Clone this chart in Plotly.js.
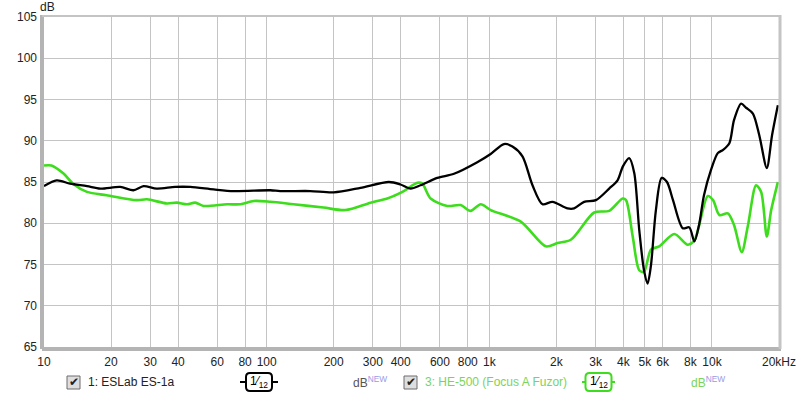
<!DOCTYPE html>
<html><head><meta charset="utf-8">
<script src="https://cdn.plot.ly/plotly-3.0.1.min.js"></script>
<style>html,body{margin:0;padding:0;background:#fff;}#c{width:800px;height:398px;}</style>
</head><body><div id="c"></div>
<script>
// ---- data ----
const blackFreq = [10,11.4,13.1,15.6,17.9,22.0,25.2,28.0,32.1,38.8,45.4,57.8,71.1,104,115,157,200,264,354,399,443,491,584,694,883,1014,1164,1270,1409,1563,1733,1922,2246,2404,2666,3012,3454,3767,3981,4249,4477,4713,4952,5140,5321,5600,5942,6281,6683,7390,7912,8334,8750,9208,9908,10617,11220,11970,12560,13520,14230,15270,16300,17630,18620,19770];
const blackDb   = [84.5,85.2,84.8,84.5,84.2,84.4,84.0,84.5,84.2,84.4,84.4,84.1,83.9,84.0,83.9,83.9,83.75,84.3,85.0,84.7,84.2,84.6,85.5,86.0,87.4,88.4,89.6,89.3,88.1,84.6,82.3,82.6,81.8,81.8,82.6,82.8,84.2,85.2,86.9,87.9,86.1,79.2,74.3,72.7,74.9,81.6,85.5,85.0,82.8,79.4,79.5,77.8,79.8,83.4,86.5,88.5,88.9,89.7,92.5,94.5,94.0,93.3,90.7,86.7,90.7,94.3];
const greenFreq = [10,10.8,12.2,13.5,15.6,19.1,26.1,29.0,35.6,39.5,43.9,47.8,52.1,66.4,76.2,87.5,104,132,180,226,293,348,413,475,500,545,648,743,824,915,1014,1384,1795,2025,2323,2958,3454,3972,4111,4406,4713,4952,5321,5795,6773,7785,8334,9572,10116,10790,11780,12560,13610,14520,15780,16630,17630,18450,19770];
const greenDb   = [87.0,87.0,86.05,84.8,83.8,83.4,82.8,82.9,82.4,82.5,82.3,82.5,82.1,82.3,82.3,82.7,82.6,82.3,81.9,81.6,82.5,83.0,83.9,84.9,84.8,83.0,82.1,82.2,81.5,82.3,81.6,80.2,77.2,77.6,78.0,81.3,81.5,83.0,82.8,78.4,74.3,74.1,76.8,77.2,78.7,77.4,77.9,83.3,82.8,81.0,81.2,79.8,76.5,79.8,84.6,83.8,78.4,81.6,85.0];
const tickFreqs  = [10,20,30,40,60,80,100,200,300,400,600,800,1000,2000,3000,4000,5000,6000,8000,10000,20000];
const tickLabels = ['10','20','30','40','60','80','100','200','300','400','600','800','1k','2k','3k','4k','5k','6k','8k','10k','20kHz'];
const unlabeledGridFreqs = [50,70,90,500,700,900,7000,9000];
const decades = [100,1000,10000];
const yTicks = [65,70,75,80,85,90,95,100,105];
const series1Name = '1: ESLab ES-1a';
const series2Name = '3: HE-500 (Focus A Fuzor)';
const smoothing = '1/12';
const unitLabel = 'dB';

// ---- layout helpers (pixel -> paper) ----
const L=44, R=779, T=17, B=347;
const W=R-L, H=B-T;
const px = x => (x-L)/W;
const py = y => (B-y)/H;
const GREEN = '#3ddc1c';
const FONT = 'Liberation Sans, Arial';

const traces = [
  {x: greenFreq, y: greenDb, type:'scatter', mode:'lines', line:{color:GREEN, width:2.6, shape:'spline', smoothing:0.8}, hoverinfo:'skip'},
  {x: blackFreq, y: blackDb, type:'scatter', mode:'lines', line:{color:'#000', width:2.3, shape:'spline', smoothing:0.8}, hoverinfo:'skip'}
];

const shapes = [];
unlabeledGridFreqs.forEach(f => shapes.push({type:'line', xref:'x', yref:'paper', x0:Math.log10(f), x1:Math.log10(f), y0:0, y1:1, line:{color:'#c4c4c4', width:1}, layer:'below'}));
decades.forEach(d => shapes.push({type:'line', xref:'x', yref:'paper', x0:Math.log10(d), x1:Math.log10(d), y0:0, y1:1, line:{color:'#8c8c8c', width:1}, layer:'below'}));
// frame shadow
shapes.push({type:'line', xref:'paper', yref:'paper', x0:px(42), x1:px(42), y0:py(349), y1:py(15), line:{color:'#b4b4b4', width:4}});
shapes.push({type:'line', xref:'paper', yref:'paper', x0:px(42), x1:px(781), y0:py(349), y1:py(349), line:{color:'#b4b4b4', width:4}});
shapes.push({type:'line', xref:'paper', yref:'paper', x0:px(42), x1:px(781), y0:py(16), y1:py(16), line:{color:'#c4c4c4', width:2}});
shapes.push({type:'line', xref:'paper', yref:'paper', x0:px(780), x1:px(780), y0:py(349), y1:py(15), line:{color:'#c4c4c4', width:3}});

function checkbox(x){
  shapes.push({type:'rect', xref:'paper', yref:'paper', x0:px(x), x1:px(x+13), y0:py(389), y1:py(376), line:{color:'#6d6d6d', width:1}, fillcolor:'#dedede'});
}
function roundRect(x0, y0, x1, y1, r){
  const X = v => px(v).toFixed(5), Y = v => py(v).toFixed(5);
  return `M${X(x0+r)},${Y(y0)} L${X(x1-r)},${Y(y0)} Q${X(x1)},${Y(y0)} ${X(x1)},${Y(y0+r)} L${X(x1)},${Y(y1-r)} Q${X(x1)},${Y(y1)} ${X(x1-r)},${Y(y1)} L${X(x0+r)},${Y(y1)} Q${X(x0)},${Y(y1)} ${X(x0)},${Y(y1-r)} L${X(x0)},${Y(y0+r)} Q${X(x0)},${Y(y0)} ${X(x0+r)},${Y(y0)} Z`;
}
function smoothBox(x0, x1, color){
  const c=(x0+x1)/2;
  shapes.push({type:'line', xref:'paper', yref:'paper', x0:px(x0), x1:px(x1), y0:py(382), y1:py(382), line:{color:color, width:2}});
  shapes.push({type:'path', xref:'paper', yref:'paper', path:roundRect(c-13, 373, c+13, 391, 4), line:{color:color, width:2}, fillcolor:'#fff'});
}
checkbox(67); checkbox(404);
smoothBox(240, 278, '#000');
smoothBox(582, 615, GREEN);

const ann = [];
function A(x, y, text, opts){
  ann.push(Object.assign({xref:'paper', yref:'paper', x:px(x), y:py(y), text:text, showarrow:false, xanchor:'left', yanchor:'middle',
    borderpad:0, font:{family:FONT, size:12, color:'#222'}}, opts||{}));
}
A(39, 7.5, unitLabel, {xanchor:'left', font:{family:FONT, size:12, color:'#222'}});
A(73.5, 382, '✔', {xanchor:'center', font:{family:'DejaVu Sans', size:12, color:'#222'}});
A(410.5, 382, '✔', {xanchor:'center', font:{family:'DejaVu Sans', size:12, color:'#222'}});
A(87, 382, series1Name);
A(424, 382, series2Name, {font:{family:FONT, size:12, color:'#7ad45a'}});
const sm = smoothing.split('/');
A(259, 382, sm[0]+'⁄<sub>'+sm[1]+'</sub>', {xanchor:'center', font:{family:FONT, size:12, color:'#000'}});
A(598.5, 382, sm[0]+'⁄<sub>'+sm[1]+'</sub>', {xanchor:'center', font:{family:FONT, size:12, color:'#000'}});
A(352, 382, unitLabel+'<sup><span style="color:#9a9ae6">NEW</span></sup>', {font:{family:FONT, size:12, color:'#555'}});
A(690, 382, unitLabel+'<sup><span style="color:#9a9ae6">NEW</span></sup>', {font:{family:FONT, size:12, color:'#7ad45a'}});

const layout = {
  width:800, height:398,
  margin:{l:L, r:800-R, t:T, b:398-B, pad:0},
  paper_bgcolor:'#fff', plot_bgcolor:'#fff',
  showlegend:false,
  xaxis:{type:'log', range:[1, Math.log10(20000)], tickmode:'array', tickvals:tickFreqs, ticktext:tickLabels,
         showgrid:true, gridcolor:'#c4c4c4', gridwidth:1, zeroline:false, ticks:'', showline:false, ticklabelstandoff:6,
         tickfont:{family:FONT, size:12, color:'#222'}, fixedrange:true},
  yaxis:{range:[65,105], tickmode:'array', tickvals:yTicks, showgrid:true, gridcolor:'#c4c4c4', gridwidth:1,
         zeroline:false, ticks:'', showline:false, ticklabelstandoff:6,
         tickfont:{family:FONT, size:12, color:'#222'}, fixedrange:true},
  shapes: shapes,
  annotations: ann
};
Plotly.newPlot('c', traces, layout, {staticPlot:true, displayModeBar:false});
</script>
</body></html>
